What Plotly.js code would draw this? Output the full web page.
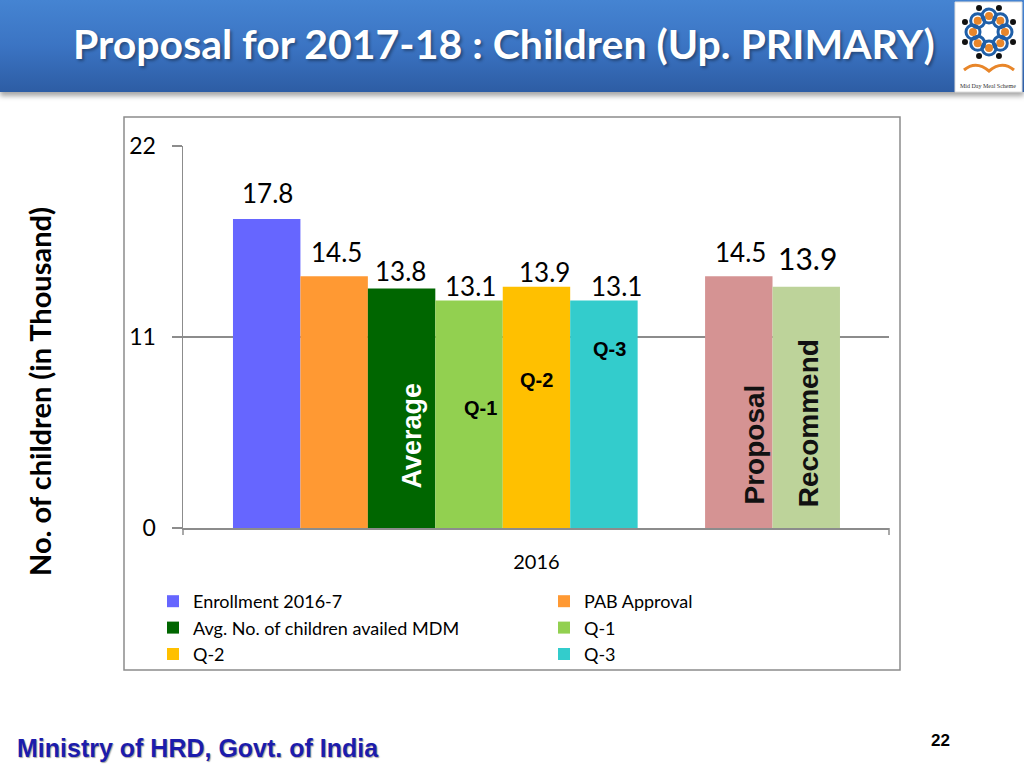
<!DOCTYPE html>
<html><head><meta charset="utf-8">
<script src="https://cdn.plot.ly/plotly-3.0.1.min.js"></script>
<style>
html,body{margin:0;padding:0;background:#fff;width:1024px;height:768px;overflow:hidden}
#bar{position:absolute;left:0;top:0;width:1024px;height:92px;background:linear-gradient(to bottom,#4584d2 0%,#3b74c3 50%,#2d5da4 100%);box-shadow:0 4px 5px rgba(0,0,0,0.35);}
#chart{position:absolute;left:0;top:0;width:1024px;height:768px}
</style></head><body>
<div id="bar"></div>
<div id="chart"></div>
<script>
// ---- data ----
const category = '2016';
const seriesNames = ['Enrollment 2016-7', 'PAB Approval', 'Avg. No. of children availed MDM', 'Q-1', 'Q-2', 'Q-3', 'Proposal', 'Recommend'];
const values = [17.8, 14.5, 13.8, 13.1, 13.9, 13.1, 14.5, 13.9];
const yTicks = [0, 11, 22];
const inBarTexts = ['', '', 'Average', 'Q-1', 'Q-2', 'Q-3', 'Proposal', 'Recommend'];
const yTitle = 'No. of children (in Thousand)';

// ---- styles ----
const colors = ['#6666FF', '#FF9933', '#006600', '#92D050', '#FFC000', '#33CCCC', '#D59393', '#BDD39A'];
const inLegend = [true, true, true, true, true, true, false, false];
const labelSize = [26, 26, 26, 26, 26, 26, 26, 30];
const labelDx = [1, 2, -1, 1, 8, 13, 2, 1];
const labelDy = [26, 24, 17, 15, 15, 15, 24, 29];
// in-bar label style
const inBarY = [0, 0, 5.3, 6.9, 8.5, 10.3, 4.8, 6.05];
const inBarDx = [0, 0, 10, 11, 0, 6, 16, 3];
const inBarAngle = [0, 0, -90, 0, 0, 0, -90, -90];
const inBarSize = [0, 0, 27, 20, 20, 20, 28, 28];
const inBarColor = ['#000', '#000', '#ffffff', '#000', '#000', '#000', '#111', '#111'];

// plot area in pixels
const L = 183, R = 889, T = 146, B = 528;
const W = R - L, H = B - T;
const px = x => (x - L) / W;
const py = y => (B - y) / H;
const slot = i => (i < 6 ? i : i + 1);

const traces = seriesNames.map((n, i) => ({
  type: 'bar', name: n, x: [slot(i)], y: [values[i]], width: 1,
  marker: {color: colors[i], line: {width: 0}},
  showlegend: inLegend[i], hoverinfo: 'name+y'
}));

const annotations = [];
values.forEach((v, i) => {
  annotations.push({
    x: slot(i), y: v, xref: 'x', yref: 'y', text: String(v), showarrow: false,
    yanchor: 'middle', xanchor: 'center', xshift: labelDx[i], yshift: labelDy[i],
    font: {family: 'Lato, sans-serif', size: labelSize[i], color: '#000'}
  });
  if (inBarTexts[i]) {
    annotations.push({
      x: slot(i), y: inBarY[i], xref: 'x', yref: 'y', text: '<b>' + inBarTexts[i] + '</b>',
      showarrow: false, textangle: inBarAngle[i], xshift: inBarDx[i],
      xanchor: 'center', yanchor: 'middle',
      font: {family: 'Liberation Sans, Arial, sans-serif', size: inBarSize[i], color: inBarColor[i]}
    });
  }
});

// y-axis title (placed like the original, off-centre)
annotations.push({
  xref: 'paper', yref: 'paper', x: px(39), y: py(392), xanchor: 'center', yanchor: 'middle',
  text: '<b>' + yTitle + '</b>', textangle: -90, showarrow: false,
  font: {family: 'Lato, sans-serif', size: 29, color: '#000'}
});
// footer & page number
annotations.push({
  xref: 'paper', yref: 'paper', x: px(15), y: py(748), xanchor: 'left', yanchor: 'middle',
  text: '<b>Ministry of HRD, Govt. of India</b>', showarrow: false,
  font: {family: 'Liberation Sans, Arial, sans-serif', size: 25, color: '#1c1cac', shadow: '1px 1px 1px rgba(0,0,0,0.35)'}
});
annotations.push({
  xref: 'paper', yref: 'paper', x: px(940), y: py(740), xanchor: 'center', yanchor: 'middle',
  text: '<b>22</b>', showarrow: false,
  font: {family: 'Liberation Sans, Arial, sans-serif', size: 17, color: '#000'}
});
// logo caption
annotations.push({
  xref: 'paper', yref: 'paper', x: px(988), y: py(86), xanchor: 'center', yanchor: 'middle',
  text: 'Mid Day Meal Scheme', showarrow: false,
  font: {family: 'Liberation Serif, serif', size: 6, color: '#333'}
});

const shapes = [];
// chart frame
shapes.push({type: 'rect', xref: 'paper', yref: 'paper', x0: px(124), x1: px(900), y0: py(670), y1: py(117),
  line: {color: '#8c8c8c', width: 1.5}, fillcolor: 'rgba(0,0,0,0)', layer: 'below'});
// x-axis edge ticks
[0, 1].forEach(xx => shapes.push({type: 'line', xref: 'paper', yref: 'paper', x0: xx, x1: xx, y0: 0, y1: py(535),
  line: {color: '#8c8c8c', width: 1.5}}));
// logo
shapes.push({type: 'rect', xref: 'paper', yref: 'paper', x0: px(955), x1: px(1022), y0: py(92), y1: py(2),
  line: {color: '#dddddd', width: 1}, fillcolor: '#ffffff'});
const cx = 989, cy = 32;
for (let k = 0; k < 8; k++) {
  const a = k * Math.PI / 4 - Math.PI / 2;
  const ox = cx + 16 * Math.cos(a), oy = cy + 16 * Math.sin(a);
  shapes.push({type: 'circle', xref: 'paper', yref: 'paper', x0: px(ox - 7), x1: px(ox + 7), y0: py(oy + 7), y1: py(oy - 7),
    line: {color: '#1f5fa8', width: 3}, fillcolor: 'rgba(0,0,0,0)'});
  shapes.push({type: 'circle', xref: 'paper', yref: 'paper', x0: px(ox - 4), x1: px(ox + 4), y0: py(oy + 4), y1: py(oy - 4),
    line: {width: 0}, fillcolor: '#e8862a'});
  const b = a + Math.PI / 8, bx = cx + 26 * Math.cos(b), by = cy + 26 * Math.sin(b);
  shapes.push({type: 'circle', xref: 'paper', yref: 'paper', x0: px(bx - 3), x1: px(bx + 3), y0: py(by + 3), y1: py(by - 3),
    line: {width: 0}, fillcolor: '#111'});
}
shapes.push({type: 'path', xref: 'paper', yref: 'paper',
  path: 'M' + px(964) + ',' + py(70) + ' Q' + px(976) + ',' + py(60) + ' ' + px(989) + ',' + py(71) +
        ' Q' + px(1002) + ',' + py(60) + ' ' + px(1014) + ',' + py(70),
  line: {color: '#e8862a', width: 3}});

const layout = {
  width: 1024, height: 768,
  paper_bgcolor: 'rgba(0,0,0,0)', plot_bgcolor: 'rgba(0,0,0,0)',
  margin: {l: L, r: 1024 - R, t: T, b: 768 - B, pad: 0},
  barmode: 'overlay',
  title: {
    text: '<b>Proposal for 2017-18 : Children (Up. PRIMARY)</b>',
    xref: 'container', yref: 'container', x: 73 / 1024, xanchor: 'left', y: 1 - 45 / 768, yanchor: 'middle',
    font: {family: 'Lato, sans-serif', size: 41, color: '#ffffff', shadow: '2px 2px 3px rgba(0,0,0,0.35)'}
  },
  xaxis: {
    range: [-1.241, 9.227], tickvals: [4], ticktext: [category],
    showgrid: false, zeroline: false, showline: true, linecolor: '#8c8c8c', linewidth: 1.5,
    ticks: '', ticklabelstandoff: 15,
    tickfont: {family: 'Lato, sans-serif', size: 20, color: '#000'}, fixedrange: true
  },
  yaxis: {
    range: [0, 22], tickvals: yTicks, ticktext: yTicks.map(String),
    showgrid: true, gridcolor: '#8c8c8c', gridwidth: 1.5, zeroline: false,
    showline: true, linecolor: '#8c8c8c', linewidth: 1.5,
    ticks: 'outside', ticklen: 10, tickwidth: 1.5, tickcolor: '#8c8c8c', ticklabelstandoff: 11,
    tickfont: {family: 'Lato, sans-serif', size: 23, color: '#000'},
    fixedrange: true
  },
  legend: {
    orientation: 'h', x: px(153), y: py(583), xanchor: 'left', yanchor: 'top',
    entrywidth: 346, entrywidthmode: 'pixels', traceorder: 'normal',
    font: {family: 'Lato, sans-serif', size: 18, color: '#000'},
    bgcolor: 'rgba(0,0,0,0)', itemclick: false, itemdoubleclick: false
  },
  annotations: annotations,
  shapes: shapes,
  showlegend: true
};

Plotly.newPlot('chart', traces, layout, {displayModeBar: false, staticPlot: true});
</script>
</body></html>
